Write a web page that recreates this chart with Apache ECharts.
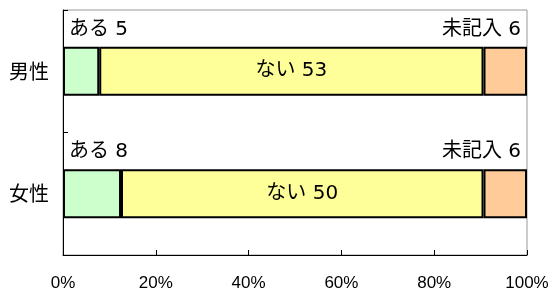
<!DOCTYPE html>
<html>
<head>
<meta charset="utf-8">
<script src="https://cdn.jsdelivr.net/npm/echarts@6/dist/echarts.min.js"></script>
<style>
html, body { margin: 0; padding: 0; background: #fff; }
#main { width: 548px; height: 292px; }
</style>
</head>
<body>
<div id="main"></div>
<script>
var categories = ['男性', '女性'];
var aruCounts = [5, 8];
var naiCounts = [53, 50];
var mikinyuCounts = [6, 6];
var xTicks = ['0%', '20%', '40%', '60%', '80%', '100%'];

var FONT = '"Noto Sans CJK JP", "Noto Sans", sans-serif';
var LABEL_FONT = '"DejaVu Sans", "Noto Sans CJK JP", sans-serif';
var TICK_FONT = '"Liberation Sans", sans-serif';

function toPct(arr) {
	return arr.map(function(v, i) {
		var total = aruCounts[i] + naiCounts[i] + mikinyuCounts[i];
		return { value: v / total * 100, count: v };
	});
}

function makeSeries(name, counts, color, label) {
	return {
		name: name,
		type: 'bar',
		stack: 'total',
		barWidth: '40%',
		data: toPct(counts),
		itemStyle: { color: color, borderColor: '#000', borderWidth: 2 },
		label: Object.assign({
			show: true,
			color: '#000',
			fontSize: 20,
			fontFamily: LABEL_FONT,
			formatter: function(p) { return name + ' ' + p.data.count; }
		}, label)
	};
}

var chart = echarts.init(document.getElementById('main'));
var option = {
	animation: false,
	grid: {
		left: 63, right: 21, top: 10, bottom: 37,
		outerBoundsMode: 'none',
		containLabel: false,
		show: true, borderColor: '#999', borderWidth: 1, backgroundColor: 'transparent'
	},
	xAxis: {
		type: 'value',
		min: 0, max: 100, interval: 20,
		splitLine: { show: false },
		axisLine: { show: true, lineStyle: { color: '#000', width: 1 } },
		axisTick: { show: true, inside: true, length: 5, lineStyle: { color: '#000' } },
		axisLabel: {
			color: '#000', fontSize: 17, fontFamily: TICK_FONT, margin: 20,
			formatter: function(v) { return xTicks[Math.round(v / 20)]; }
		}
	},
	yAxis: {
		type: 'category',
		inverse: true,
		data: categories,
		axisLine: { show: true, lineStyle: { color: '#000', width: 1 } },
		axisTick: { show: true, inside: true, length: 5, lineStyle: { color: '#000' } },
		axisLabel: { color: '#000', fontSize: 20, fontFamily: FONT, margin: 14 }
	},
	series: [
		makeSeries('ある', aruCounts, '#CCFFCC', { position: [6, -17], align: 'left', verticalAlign: 'middle' }),
		makeSeries('ない', naiCounts, '#FFFF99', { position: 'inside' }),
		makeSeries('未記入', mikinyuCounts, '#FFCC99', { position: ['100%', -17], align: 'right', verticalAlign: 'middle', offset: [-6, 0] })
	]
};
chart.setOption(option);
</script>
</body>
</html>
